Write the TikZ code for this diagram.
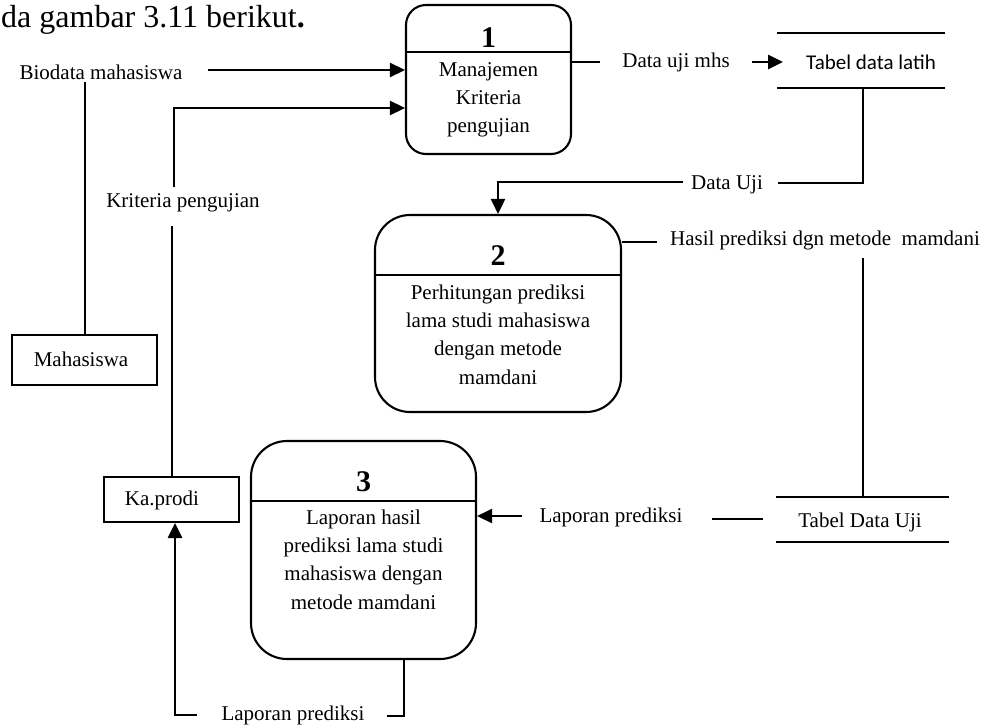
\documentclass[tikz,border=0pt]{standalone}
\usepackage{fontspec}
\setmainfont{Liberation Serif}
\newfontfamily\storefont{Carlito}
\usetikzlibrary{arrows.meta}

\begin{document}
\begin{tikzpicture}[x=1pt,y=-1pt,
  line/.style={line width=2pt},
  flow/.style={line width=2.6pt,-{Triangle[length=15pt,width=14pt]}},
  txt/.style={inner sep=0pt,font=\fontsize{21}{28.3}\selectfont},
  num/.style={inner sep=0pt,font=\fontsize{30}{32}\selectfont\bfseries},
  proc/.style={draw,line width=2.1pt,inner sep=0pt,rounded corners=#1},
  entity/.style={draw,line width=2pt,inner sep=0pt},
  store/.style={inner sep=0pt}
]
\useasboundingbox (0,0) rectangle (995,725);

% heading fragment
\node[anchor=base west,inner sep=0pt,font=\fontsize{32}{38}\selectfont] (head) at (1,28) {da gambar 3.11 berikut\textbf{.}};

% processes
\node[proc=20pt,minimum width=165pt,minimum height=149pt] (p1) at (488.5,79.5) {};
\node[proc=35pt,minimum width=246pt,minimum height=197pt] (p2) at (498,313.5) {};
\node[proc=36pt,minimum width=225pt,minimum height=218pt] (p3) at (363.5,550) {};
\coordinate (d1) at (0,52);
\coordinate (d2) at (0,275);
\coordinate (d3) at (0,501);
\draw[line] (p1.west |- d1) -- (p1.east |- d1);
\draw[line] (p2.west |- d2) -- (p2.east |- d2);
\draw[line] (p3.west |- d3) -- (p3.east |- d3);
\node[num] (p1-n) at (488.5,38) {1};
\node[num] (p2-n) at (498,256) {2};
\node[num] (p3-n) at (363.5,482) {3};
\node[txt,align=center] (p1-t) at (488.5,100) {Manajemen\\Kriteria\\pengujian};
\node[txt,align=center] (p2-t) at (498,334.5) {Perhitungan prediksi\\lama studi mahasiswa\\dengan metode\\mamdani};
\node[txt,align=center] (p3-t) at (363.5,559.5) {Laporan hasil\\prediksi lama studi\\mahasiswa dengan\\metode mamdani};

% external entities
\node[entity,minimum width=145pt,minimum height=50pt] (mhs) at (84.5,360) {};
\node[txt] (mhs-t) at (81,359) {Mahasiswa};
\node[entity,minimum width=135pt,minimum height=45pt] (kp) at (171.5,499.5) {};
\node[txt] (kp-t) at (162,500) {Ka.prodi};

% data stores
\node[store,minimum width=168pt,minimum height=55pt] (s1) at (861,60.5) {};
\draw[line] (s1.north west) -- (s1.north east);
\draw[line] (s1.south west) -- (s1.south east);
\node[txt,font=\storefont\fontsize{21}{25}\selectfont] (s1-t) at (871,62) {Tabel data latih};
\node[store,minimum width=173pt,minimum height=45pt] (s2) at (862.5,519.5) {};
\draw[line] (s2.north west) -- (s2.north east);
\draw[line] (s2.south west) -- (s2.south east);
\node[txt] (s2-t) at (860,522) {Tabel Data Uji};

% flow labels
\node[txt] (bio) at (101,72) {Biodata mahasiswa};
\node[txt] (krit) at (183,203) {Kriteria pengujian};
\node[txt] (duj) at (676,62) {Data uji mhs};
\node[txt] (du) at (727,185) {Data Uji};
\node[txt] (hp) at (825,240) {Hasil prediksi dgn metode~ mamdani};
\node[txt] (lp1) at (611,517) {Laporan prediksi};
\node[txt] (lp2) at (293,715) {Laporan prediksi};

% Mahasiswa -> process 1
\draw[line] (mhs.north) -- ++(0,-252);
\coordinate (a1) at (208,70);
\draw[flow] (a1) -- (a1 -| p1.west);

% Ka.prodi -> process 1
\draw[line] (kp.north) -- ++(0,-250);
\coordinate (k1) at (174,187);
\coordinate (k2) at (174,108);
\draw[flow] (k1) -- (k2) -- (k2 -| p1.west);

% process 1 -> Tabel data latih
\coordinate (c1) at (600,62);
\draw[line] (c1 -| p1.east) -- (c1);
\coordinate (c2) at (752,62);
\draw[flow] (c2) -- ++(31,0);

% Tabel data latih -> process 2
\coordinate (c3) at (863,183);
\draw[line] (c3 |- s1.south) -- (c3) -- ++(-85,0);
\coordinate (c4) at (683,182);
\coordinate (c5) at (498,182);
\draw[flow] (c4) -- (c5) -- (c5 |- p2.north);

% process 2 -> Tabel Data Uji
\coordinate (c6) at (657,242);
\draw[line] (c6 -| p2.east) -- (c6);
\coordinate (c7) at (863,258);
\draw[line] (c7) -- (c7 |- s2.north);

% Tabel Data Uji -> process 3
\coordinate (c8) at (763,519);
\draw[line] (c8) -- ++(-51,0);
\coordinate (c9) at (522,516);
\draw[flow] (c9) -- (c9 -| p3.east);

% process 3 -> Ka.prodi
\coordinate (b1) at (404,716);
\draw[line] (b1 |- p3.south) -- (b1) -- ++(-17,0);
\coordinate (b2) at (197,715);
\coordinate (b3) at (175,715);
\draw[flow] (b2) -- (b3) -- (b3 |- kp.south);
\end{tikzpicture}
\end{document}
